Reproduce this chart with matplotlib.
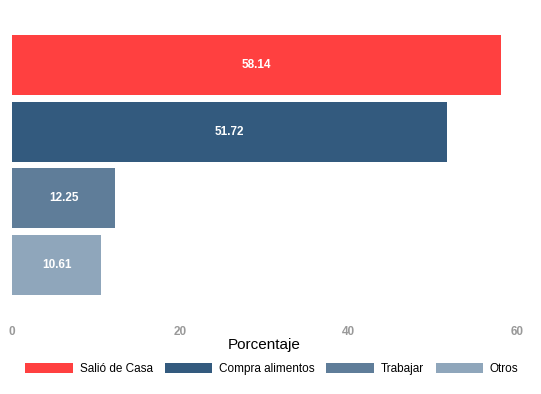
import matplotlib
matplotlib.use('Agg')
import matplotlib.pyplot as plt
from matplotlib.patches import Patch

categorias = ['Salió de Casa', 'Compra alimentos', 'Trabajar', 'Otros']
valores = [58.14, 51.72, 12.25, 10.61]
colores = ['#FF4040', '#335A7E', '#5F7D99', '#8FA6BB']
ticks = [0, 20, 40, 60]

plt.rcParams['font.family'] = ['Liberation Sans', 'DejaVu Sans']

fig = plt.figure(figsize=(5.41, 3.94), dpi=100)
ax = fig.add_axes([12/541, 99/394, 505/541, 260/394])

pos = list(range(len(categorias)))[::-1]
ax.barh(pos, valores, height=0.9, color=colores)
for p, v in zip(pos, valores):
    ax.text(v/2, p, f'{v:.2f}', ha='center', va='center', color='white',
            fontsize=8.5, fontweight='bold')

ax.set_xlim(0, 60)
ax.set_ylim(-0.45, 3.45)
ax.set_xticks(ticks)
ax.set_xticklabels([str(t) for t in ticks], color='#999999', fontsize=8.5, fontweight='bold')
ax.tick_params(axis='x', length=0, pad=22)
ax.set_yticks([])
for s in ax.spines.values():
    s.set_visible(False)
ax.set_xlabel('Porcentaje', fontsize=11, labelpad=0)

handles = [Patch(facecolor=c, label=l) for c, l in zip(colores, categorias)]
fig.legend(handles=handles, loc='center', bbox_to_anchor=(272/541, 1-369/394), ncol=4,
           frameon=False, fontsize=8.5, handlelength=4.0, handleheight=1.0,
           columnspacing=1.0, handletextpad=0.6)

fig.savefig('out.png', dpi=100)
